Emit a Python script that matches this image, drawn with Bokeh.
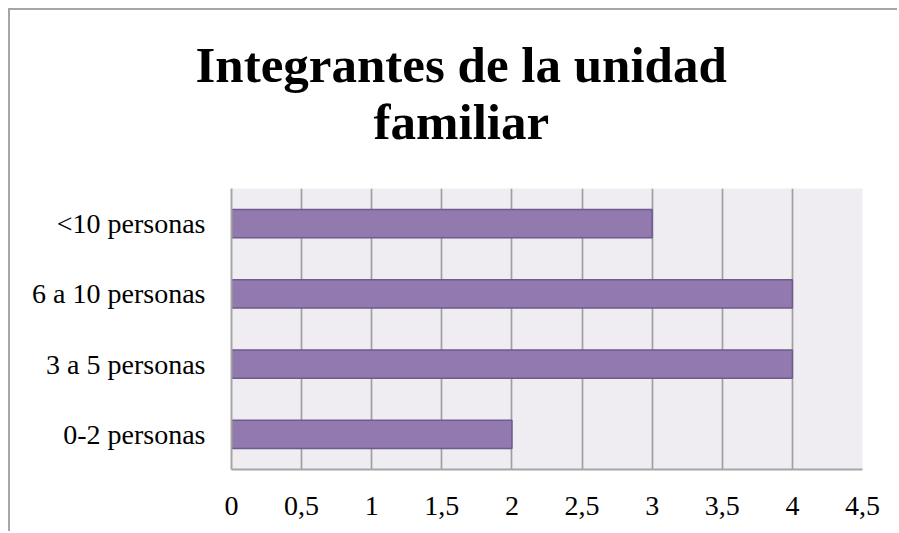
from bokeh.plotting import figure
from bokeh.models import FixedTicker, Title
from bokeh.embed import file_html
from bokeh.resources import INLINE

categories = ["0-2 personas", "3 a 5 personas", "6 a 10 personas", "<10 personas"]
values = [2, 4, 4, 3]
tick_values = [0, 0.5, 1, 1.5, 2, 2.5, 3, 3.5, 4, 4.5]
tick_labels = ["0", "0,5", "1", "1,5", "2", "2,5", "3", "3,5", "4", "4,5"]
title_lines = ["Integrantes de la unidad", "familiar"]

W, H = 889, 523
p = figure(width=W, height=H, y_range=categories, x_range=(0, 4.5),
           output_backend="svg", toolbar_location=None,
           min_border_left=221, min_border_right=37,
           min_border_top=178, min_border_bottom=64)
p.styles = {"margin-left": "8px", "margin-top": "8px",
            "border-top": "2px solid #A6A6A6", "border-left": "2px solid #A6A6A6"}

p.background_fill_color = "#EFEDF2"
p.border_fill_color = "white"
p.outline_line_color = None

p.hbar(y=categories, right=values, height=0.4, left=0,
       fill_color="#927AAF", line_color="#6E5A8E", line_width=1.5)

p.xaxis.ticker = FixedTicker(ticks=tick_values)
p.xaxis.major_label_overrides = {v: l for v, l in zip(tick_values, tick_labels)}
for ax in (p.xaxis, p.yaxis):
    ax.major_tick_line_color = None
    ax.minor_tick_line_color = None
    ax.axis_line_color = "#A6A6A6"
    ax.axis_line_width = 2
    ax.major_label_text_font = "Liberation Serif"
    ax.major_label_text_font_size = "28px"
    ax.major_label_text_color = "black"
p.xaxis.major_label_standoff = 21
p.yaxis.major_label_standoff = 20

p.xgrid.grid_line_color = "#A0A0A0"
p.xgrid.grid_line_width = 1.75
p.ygrid.grid_line_color = None

# line closest to the plot first
t2 = Title(text=title_lines[1], align="left", offset=142, standoff=78,
           text_font="Liberation Serif", text_font_style="bold",
           text_font_size="51px", text_color="black")
t1 = Title(text=title_lines[0], align="left", offset=-36, standoff=-81,
           text_font="Liberation Serif", text_font_style="bold",
           text_font_size="51px", text_color="black")
p.add_layout(t2, "above")
p.add_layout(t1, "above")

open("out.html", "w").write(file_html(p, INLINE))
